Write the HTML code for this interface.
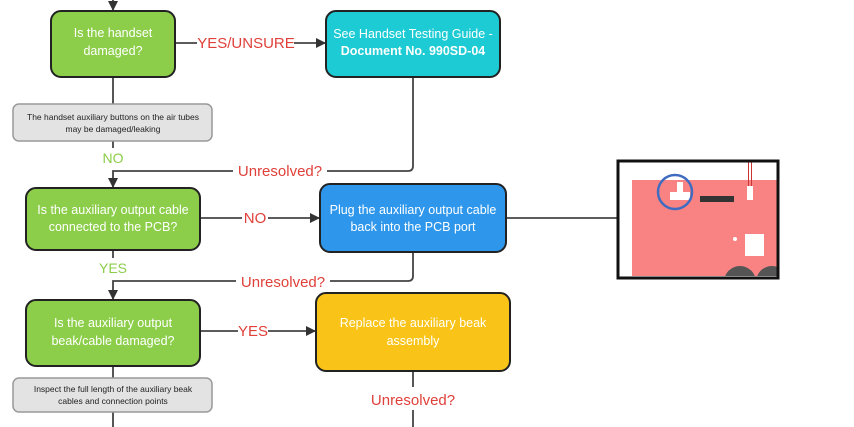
<!DOCTYPE html>
<html><head><meta charset="utf-8"><style>
html,body{margin:0;padding:0;background:#fff;width:854px;height:427px;overflow:hidden}
svg{display:block}
text{font-family:"Liberation Sans",sans-serif}
</style></head><body>
<svg width="854" height="427" viewBox="0 0 854 427" xmlns="http://www.w3.org/2000/svg">
<defs><marker id="a" markerWidth="10" markerHeight="10" refX="9" refY="5" orient="auto" markerUnits="userSpaceOnUse"><path d="M0,0 L10,5 L0,10 z" fill="#333"/></marker>
<clipPath id="c"><rect x="632" y="162" width="145" height="114"/></clipPath></defs>
<g stroke="#444" stroke-width="1.8" fill="none">
<line x1="113" y1="0" x2="113" y2="10" marker-end="url(#a)"/>
<line x1="113" y1="77" x2="113" y2="104"/>
<line x1="113" y1="141" x2="113" y2="148"/>
<path d="M413 77 V166 Q413 171 408 171 H113 V187" marker-end="url(#a)"/>
<line x1="175" y1="43" x2="197" y2="43"/>
<line x1="294" y1="43" x2="325" y2="43" marker-end="url(#a)"/>
<line x1="200" y1="218" x2="242" y2="218"/>
<line x1="268" y1="218" x2="319" y2="218" marker-end="url(#a)"/>
<line x1="506" y1="218" x2="617" y2="218"/>
<line x1="113" y1="250" x2="113" y2="258"/>
<path d="M413 252 V276 Q413 281 408 281 H113 V299" marker-end="url(#a)"/>
<line x1="200" y1="331" x2="238" y2="331"/>
<line x1="268" y1="331" x2="315" y2="331" marker-end="url(#a)"/>
<line x1="113" y1="366" x2="113" y2="378"/>
<line x1="113" y1="412" x2="113" y2="427"/>
<line x1="413" y1="371" x2="413" y2="387"/>
<line x1="413" y1="410" x2="413" y2="427"/>
</g>
<rect x="233" y="162" width="94" height="18" fill="#fff"/>
<rect x="236" y="272" width="94" height="18" fill="#fff"/>
<g stroke="#222" stroke-width="2">
<rect x="51" y="11" width="124" height="66" rx="10" fill="#8cce4a"/>
<rect x="326" y="11" width="174" height="66" rx="10" fill="#1ccbd3"/>
<rect x="26" y="188" width="174" height="62" rx="10" fill="#8cce4a"/>
<rect x="320" y="184" width="186" height="68" rx="10" fill="#2e97ec"/>
<rect x="26" y="300" width="174" height="66" rx="10" fill="#8cce4a"/>
<rect x="316" y="293" width="194" height="78" rx="10" fill="#f9c417"/>
</g>
<rect x="13" y="104" width="199" height="37" rx="6" fill="#e3e3e3" stroke="#999" stroke-width="1.5"/>
<rect x="13" y="378" width="199" height="34" rx="6" fill="#e3e3e3" stroke="#999" stroke-width="1.5"/>
<g fill="#fff" font-size="12.5" text-anchor="middle">
<text x="113" y="37">Is the handset</text><text x="113" y="55">damaged?</text>
<text x="413" y="38">See Handset Testing Guide -</text><text x="413" y="55" font-weight="bold">Document No. 990SD-04</text>
<text x="113" y="214">Is the auxiliary output cable</text><text x="113" y="231">connected to the PCB?</text>
<text x="413" y="214">Plug the auxiliary output cable</text><text x="413" y="231">back into the PCB port</text>
<text x="113" y="327">Is the auxiliary output</text><text x="113" y="345">beak/cable damaged?</text>
<text x="413" y="327">Replace the auxiliary beak</text><text x="413" y="345">assembly</text>
</g>
<g fill="#222" font-size="8.5" text-anchor="middle">
<text x="113" y="120">The handset auxiliary buttons on the air tubes</text><text x="113" y="132">may be damaged/leaking</text>
<text x="113" y="392">Inspect the full length of the auxiliary beak</text><text x="113" y="404">cables and connection points</text>
</g>
<g fill="#e0403a" font-size="15" text-anchor="middle">
<text x="246" y="48">YES/UNSURE</text>
<text x="280" y="176">Unresolved?</text>
<text x="255" y="223">NO</text>
<text x="283" y="287">Unresolved?</text>
<text x="253" y="336">YES</text>
<text x="413" y="405">Unresolved?</text>
</g>
<g fill="#8cce4a" font-size="14" text-anchor="middle">
<text x="113" y="163">NO</text><text x="113" y="273">YES</text>
</g>
<rect x="618" y="161" width="160" height="117" fill="#fff"/>
<g clip-path="url(#c)">
<rect x="632" y="180" width="145" height="96" fill="#f98383"/>
<rect x="748" y="161" width="1" height="26" fill="#c33"/>
<rect x="751" y="161" width="1" height="26" fill="#c33"/>
<rect x="747" y="186" width="6" height="14" fill="#fff"/>
<path d="M670 192 h7 v-10 h6 v10 h7 v8 h-20 z" fill="#fff"/>
<circle cx="675" cy="192" r="17" fill="none" stroke="#3f6cc0" stroke-width="2.5"/>
<rect x="700" y="196" width="34" height="6" fill="#333"/>
<rect x="745" y="234" width="19" height="22" fill="#fff"/>
<circle cx="735" cy="239" r="2" fill="#fff"/>
<circle cx="740" cy="282" r="16" fill="#555"/>
<circle cx="772" cy="282" r="16" fill="#555"/>
</g>
<rect x="618" y="161" width="160" height="117" fill="none" stroke="#111" stroke-width="3"/>
</svg>
</body></html>
